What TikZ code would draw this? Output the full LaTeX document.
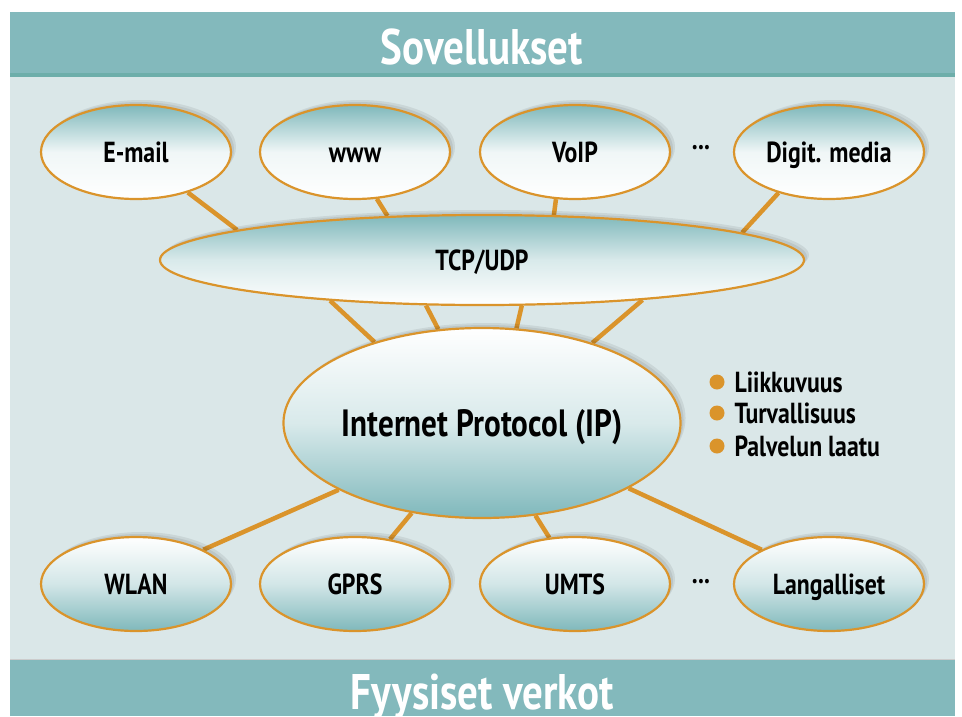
\documentclass[tikz,border=0pt]{standalone}
\usepackage{fontspec}
\setmainfont{PT Sans}[FakeStretch=0.82]
\usetikzlibrary{shapes.geometric}
\definecolor{band}{HTML}{83B9BC}
\definecolor{bandline}{HTML}{6DAEAA}
\definecolor{panel}{HTML}{DAE7E8}
\definecolor{orng}{HTML}{DA942B}
\definecolor{tl}{HTML}{7FB8BB}
\pgfdeclarelayer{back}
\pgfdeclarelayer{lines}
\pgfsetlayers{back,lines,main}
\begin{document}
\begin{tikzpicture}[x=1pt,y=-1pt,
  oval/.style={ellipse, draw=orng, line width=2.2pt, inner sep=0pt,
    text height=21pt, text depth=0pt,
    font=\fontsize{29}{30}\selectfont\bfseries,
    preaction={fill=black, fill opacity=0.07, transform canvas={xshift=5pt,yshift=5pt}},
    preaction={fill=black, fill opacity=0.07, transform canvas={xshift=3pt,yshift=3pt}}},
  app/.style={oval, minimum width=190pt, minimum height=94pt,
    top color=tl, bottom color=white, middle color=tl!12!white},
  net/.style={oval, minimum width=190pt, minimum height=94pt,
    top color=white, bottom color=tl, middle color=tl!35!white},
  conn/.style={draw=orng, line width=4.5pt},
  title/.style={text=white, font=\fontsize{50}{52}\selectfont\bfseries, anchor=base},
  dots/.style={font=\fontsize{29}{30}\selectfont\bfseries},
  bullet/.style={circle, fill=orng, minimum size=15pt, inner sep=0pt},
  btext/.style={anchor=base west, font=\fontsize{29}{30}\selectfont\bfseries}
]
\useasboundingbox (0,0) rectangle (962,716);
\begin{pgfonlayer}{back}
  \fill[white] (0,0) rectangle (962,716);
  \fill[band] (10,12) rectangle (955,73);
  \fill[bandline] (10,73) rectangle (955,77);
  \fill[panel] (10,77) rectangle (955,659);
  \fill[band] (10,659) rectangle (955,716);
  \draw[black!20, line width=0.8pt] (10,659) -- (955,659);
\end{pgfonlayer}

\node[title] (top) at (482,64) {Sovellukset};
\node[title] (bottom) at (482,709) {Fyysiset verkot};

\node[app] (email) at (136,152) {E-mail};
\node[app] (www) at (355,152) {www};
\node[app] (voip) at (575,152) {VoIP};
\node[app] (digit) at (829,152) {Digit. media};
\node[dots] (d1) at (701,148) {...};

\node[oval, minimum width=644pt, minimum height=90pt,
  top color=tl, bottom color=white, middle color=tl!30!white] (tcp) at (482,260) {TCP/UDP};

\node[oval, minimum width=380pt, minimum height=190pt, text height=27pt,
  font=\fontsize{38}{40}\selectfont\bfseries,
  top color=white, bottom color=tl, middle color=tl!30!white] (ip) at (482,423) {Internet Protocol (IP)};

\node[net] (wlan) at (136,584) {WLAN};
\node[net] (gprs) at (355,584) {GPRS};
\node[net] (umts) at (575,584) {UMTS};
\node[net] (lang) at (829,584) {Langalliset};
\node[dots] (d2) at (701,582) {...};

\node[bullet] (b1) at (717,382) {};
\node[bullet] (b2) at (717,413) {};
\node[bullet] (b3) at (717,446) {};
\node[btext] (t1) at (731,392) {Liikkuvuus};
\node[btext] (t2) at (731,423) {Turvallisuus};
\node[btext] (t3) at (731,456) {Palvelun laatu};

\begin{pgfonlayer}{lines}
  \draw[conn] (email.-38.7) -- (tcp.173.3);
  \draw[conn] (www.-65.5) -- (tcp.155.9);
  \draw[conn] (voip.-112.4) -- (tcp.32.1);
  \draw[conn] (digit.-141.9) -- (tcp.6.4);
  \draw[conn] (tcp.-165.7) -- (ip.143.4);
  \draw[conn] (tcp.-141.2) -- (ip.115.5);
  \draw[conn] (tcp.-49.6) -- (ip.70.6);
  \draw[conn] (tcp.-14.3) -- (ip.36.6);
  \draw[conn] (ip.-155) -- (wlan.27.6);
  \draw[conn] (ip.-128.3) -- (gprs.52.3);
  \draw[conn] (ip.-60.6) -- (umts.119);
  \draw[conn] (ip.-24.9) -- (lang.153.4);
\end{pgfonlayer}
\end{tikzpicture}
\end{document}
